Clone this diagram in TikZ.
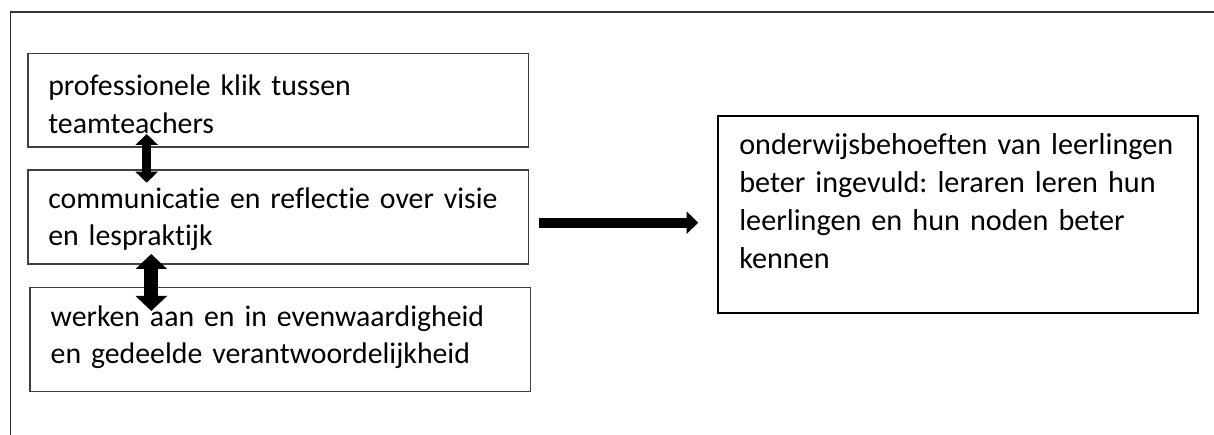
\documentclass[tikz,border=0pt]{standalone}
\usepackage{fontspec}
\setmainfont{Carlito}[Ligatures=NoCommon]
\usetikzlibrary{arrows.meta,calc}
\begin{document}
\frenchspacing
\begin{tikzpicture}[x=1pt,y=-1pt,
  frame/.style={draw=black!80, line width=1.5pt},
  lbox/.style={draw=black!75, line width=1.2pt, inner ysep=0pt, outer sep=0pt,
    anchor=north west, align=left, font={\fontsize{29.8}{37.5}\selectfont}},
  rbox/.style={draw=black, line width=2pt, inner ysep=0pt, outer sep=0pt,
    anchor=north west, align=left, font={\fontsize{30.2}{38}\selectfont}},
  dblA/.style={line width=8.5pt, {Triangle[length=11pt,width=22pt]}-{Triangle[length=11pt,width=22pt]}},
  dblB/.style={line width=14pt, {Triangle[length=15pt,width=30.7pt]}-{Triangle[length=15pt,width=30.7pt]}},
  harr/.style={line width=10pt, -{Triangle[length=11.7pt,width=21.7pt]}}
]
\useasboundingbox (0,0) rectangle (1214,435);
\draw[frame] (10.5,445) -- (10.5,12) -- (1225,12);

\node[lbox, inner xsep=20.3pt, text width=459.7pt, text height=42.7pt, text depth=51pt]
  (b1) at (28,53.3) {\mbox{professionele klik tussen}\\\mbox{teamteachers}};
\node[lbox, inner xsep=20.3pt, text width=459.7pt, text height=38.3pt, text depth=55.7pt]
  (b2) at (28,170) {\mbox{communicatie en reflectie over visie}\\\mbox{en lespraktijk}};
\node[lbox, inner xsep=20.7pt, text width=459.1pt, text height=38.5pt, text depth=65.5pt]
  (b3) at (30,287.5) {\mbox{werken aan en in evenwaardigheid}\\\mbox{en gedeelde verantwoordelijkheid}};
\node[rbox, inner xsep=21.6pt, text width=437.4pt, text height=38.6pt, text depth=158.4pt]
  (r) at (717.7,115.7) {\mbox{onderwijsbehoeften van leerlingen}\\\mbox{beter ingevuld: leraren leren hun}\\\mbox{leerlingen en hun noden beter}\\\mbox{kennen}};

\draw[dblA] ([xshift=118.7pt,yshift=13pt]b1.south west) -- ([xshift=118.7pt,yshift=-12.7pt]b2.north west);
\draw[dblB] ([xshift=123.3pt,yshift=10pt]b2.south west) -- ([xshift=121.3pt,yshift=-23.5pt]b3.north west);
\coordinate (hs) at ([xshift=11pt,yshift=-5.7pt]b2.east);
\draw[harr] (hs) -- ($(hs -| r.west)+(-19.4,0)$);
\end{tikzpicture}
\end{document}
